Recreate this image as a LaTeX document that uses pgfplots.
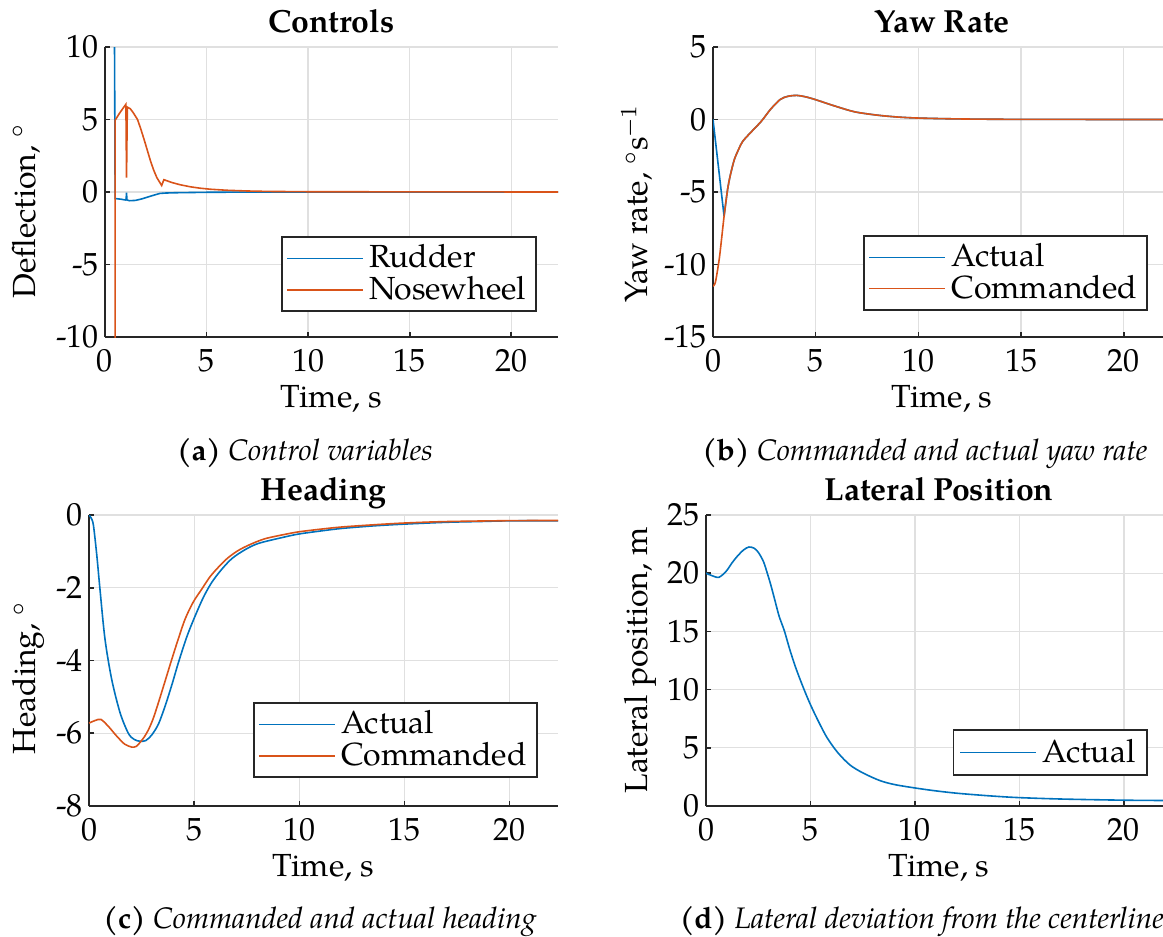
\documentclass[border=0pt]{standalone}
\usepackage{fontspec}
\setmainfont{TeX Gyre Pagella}
\usepackage{pgfplots}
\pgfplotsset{compat=1.18}

\definecolor{mblue}{rgb}{0,0.447,0.741}
\definecolor{morange}{rgb}{0.85,0.325,0.098}
\definecolor{axgray}{gray}{0.15}
\definecolor{gridgray}{gray}{0.88}

\pgfplotsset{
  myax/.style={
    scale only axis,
    anchor=south west,
    axis x line*=bottom, axis y line*=left,
    axis line style={draw=axgray, line width=0.55pt, -},
    tick style={draw=axgray, line width=0.55pt},
    major tick length=1.8pt,
    tick align=inside,
    grid=major,
    major grid style={draw=gridgray, line width=0.45pt},
    xmin=0, xmax=22.3,
    xtick={0,5,10,15,20},
    font=\fontsize{11}{13}\selectfont,
    /pgf/number format/assume math mode=true,
    xticklabel style={anchor=base, yshift=-12pt},
    yticklabel style={xshift=1.4pt},
    title style={at={(0.5,1)}, anchor=base, yshift=-1pt, font=\bfseries\fontsize{11}{13}\selectfont},
    xlabel style={at={(axis description cs:0.5,0)}, anchor=base, yshift=-24.1pt},
    legend cell align=left,
    legend image code/.code={\draw[##1, line width=0.55pt] (0pt,0pt) -- (26pt,0pt);},
    legend style={draw=axgray, line width=0.6pt, fill=white, anchor=south east,
      font=\fontsize{11}{12}\selectfont, inner xsep=1.5pt, inner ysep=0.6pt, row sep=-2.7pt},
    every axis plot/.append style={line width=0.55pt, mark=none},
  }
}

\begin{document}
\begin{tikzpicture}
\path[use as bounding box] (0,0) rectangle (400pt,321.93pt);

% (a) Controls
\begin{axis}[myax, at={(36.11pt,206.02pt)}, width=155.81pt, height=99.74pt,
  ymin=-10, ymax=10, ytick={-10,-5,0,5,10},
  title={Controls}, xlabel={Time, $\mathrm{s}$}, ylabel={Deflection, $^\circ$},
  ylabel style={at={(axis description cs:-0.1545,0.435)}, anchor=base},
  legend style={at={(rel axis cs:0.954,0.086)}}]
\addplot[mblue] coordinates {
(0.38,40) (0.50,-0.45) (0.8,-0.5) (1.0,-0.55) (1.04,-0.5) (1.06,-0.05) (1.08,-0.55)
(1.2,-0.6) (1.5,-0.58) (1.8,-0.48) (2.1,-0.35) (2.4,-0.22) (2.7,-0.1) (3.0,-0.07) (3.5,-0.05) (5,-0.02) (8,0) (22.3,0)};
\addlegendentry{Rudder}
\addplot[morange] coordinates {
(0.48,-60) (0.50,4.95) (0.7,5.4) (0.9,5.8) (1.03,6.05) (1.06,1.0) (1.10,5.85) (1.24,5.75)
(1.4,5.45) (1.6,5.0) (1.75,4.4) (1.93,3.6) (2.1,2.8) (2.25,2.1) (2.4,1.5) (2.55,1.0) (2.68,0.7) (2.79,0.45) (2.9,0.85)
(3.0,0.8) (3.3,0.65) (3.7,0.5) (4.2,0.36) (4.7,0.26) (5.2,0.19) (6,0.12) (7,0.07) (8,0.04) (10,0.02)
(15,0.01) (22.3,0)};
\addlegendentry{Nosewheel}
\end{axis}

% (b) Yaw rate
\begin{axis}[myax, at={(245.23pt,206.02pt)}, width=157.52pt, height=99.74pt,
  ymin=-15, ymax=5, ytick={-15,-10,-5,0,5},
  title={Yaw Rate}, xlabel={Time, $\mathrm{s}$}, ylabel={Yaw rate, $^\circ\mathrm{s}^{-1}$},
  ylabel style={at={(axis description cs:-0.142,0.46)}, anchor=base},
  legend style={at={(rel axis cs:0.95,0.09)}}]
\addplot[mblue] coordinates {(0,0) (0.54,-6.67)};
\addlegendentry{Actual}
\addplot[mblue, smooth, forget plot] coordinates {
(0.54,-6.67) (0.71,-4.83) (0.85,-3.8) (1.04,-2.76) (1.25,-2.05) (1.45,-1.5)
(1.9,-0.8) (2.36,-0.11) (2.8,0.7) (3.27,1.38) (3.65,1.6) (4.09,1.66) (4.55,1.55) (5.08,1.33)
(6.0,0.9) (6.9,0.53) (8,0.3) (9,0.17) (10,0.1) (12,0.04) (15,0.01) (22.3,0)};
\addplot[morange, smooth] coordinates {
(0,-11.5) (0.12,-11.2) (0.3,-9.66) (0.42,-8.2) (0.54,-6.67) (0.71,-4.83) (0.85,-3.8)
(1.04,-2.76) (1.25,-2.05) (1.45,-1.5) (1.9,-0.8) (2.36,-0.11) (2.8,0.7) (3.27,1.38)
(3.65,1.6) (4.09,1.66) (4.55,1.55) (5.08,1.33) (6.0,0.9) (6.9,0.53) (8,0.3) (9,0.17)
(10,0.1) (12,0.04) (15,0.01) (22.3,0)};
\addlegendentry{Commanded}
\end{axis}

% (c) Heading
\begin{axis}[myax, at={(30.61pt,44.71pt)}, width=161.31pt, height=100.09pt,
  ymin=-8, ymax=0, ytick={-8,-6,-4,-2,0},
  title={Heading}, xlabel={Time, $\mathrm{s}$}, ylabel={Heading, $^\circ$},
  ylabel style={at={(axis description cs:-0.113,0.44)}, anchor=base},
  legend style={at={(rel axis cs:0.957,0.096)}}]
\addplot[mblue, smooth] coordinates {
(0,0) (0.1,-0.08) (0.21,-0.28) (0.37,-1.1) (0.52,-2.03) (0.76,-3.41) (1.08,-4.52)
(1.48,-5.44) (1.87,-6.0) (2.15,-6.17) (2.43,-6.22) (2.7,-6.2) (2.98,-6.05) (3.3,-5.75)
(3.62,-5.25) (3.95,-4.65) (4.25,-4.06) (4.65,-3.35) (5.05,-2.77) (5.45,-2.25) (5.84,-1.85)
(6.3,-1.5) (6.79,-1.2) (7.4,-0.96) (8.06,-0.78) (9.33,-0.6) (10,-0.52) (11,-0.44)
(12,-0.37) (13.5,-0.3) (15,-0.25) (17,-0.2) (18.5,-0.18) (20,-0.16) (22.3,-0.16)};
\addlegendentry{Actual}
\addplot[morange, smooth] coordinates {
(0,-5.72) (0.29,-5.65) (0.57,-5.62) (0.92,-5.81) (1.2,-6.0) (1.40,-6.13) (1.7,-6.3)
(2.03,-6.38) (2.25,-6.36) (2.43,-6.25) (2.63,-6.1) (2.83,-5.9) (3.05,-5.6) (3.30,-5.16)
(3.6,-4.6) (3.94,-3.96) (4.25,-3.4) (4.57,-2.86) (4.95,-2.4) (5.37,-2.03) (5.75,-1.7)
(6.16,-1.43) (6.6,-1.18) (7.11,-0.97) (7.7,-0.8) (8.38,-0.65) (9.33,-0.53) (10,-0.46)
(11,-0.39) (12,-0.33) (13.5,-0.27) (15,-0.22) (17,-0.18) (20,-0.155) (22.3,-0.15)};
\addlegendentry{Commanded}
\end{axis}

% (d) Lateral position
\begin{axis}[myax, at={(242.82pt,44.71pt)}, width=160.28pt, height=100.09pt,
  ymin=0, ymax=25, ytick={0,5,10,15,20,25},
  title={Lateral Position}, xlabel={Time, $\mathrm{s}$}, ylabel={Lateral position, $\mathrm{m}$},
  ylabel style={at={(axis description cs:-0.1245,0.5)}, anchor=base},
  legend style={at={(rel axis cs:0.948,0.103)}, inner xsep=2pt, inner ysep=1pt}]
\addplot[mblue, smooth] coordinates {
(0,20.0) (0.27,19.8) (0.62,19.65) (0.98,20.2) (1.25,20.9) (1.52,21.5) (1.8,22.0) (2.05,22.25)
(2.3,22.15) (2.5,21.8) (2.75,21.0) (2.95,19.9) (3.1,19.0) (3.3,17.65) (3.5,16.3) (3.75,15.05)
(4.0,13.5) (4.29,11.9) (4.65,10.2) (5.0,8.7) (5.4,7.2) (5.8,5.85) (6.3,4.6) (6.88,3.54)
(7.5,2.85) (8.3,2.2) (9,1.85) (10,1.55) (11,1.3) (12,1.1) (13,0.95) (14,0.82) (15,0.72)
(17,0.6) (20,0.5) (22.3,0.47)};
\addlegendentry{Actual}
\end{axis}

% captions
\node[anchor=base, font=\fontsize{10.2}{12}\selectfont] at (104.9pt,163.7pt) {\textbf{(a)} \textit{Control variables}};
\node[anchor=base, font=\fontsize{10.2}{12}\selectfont] at (318.1pt,163.7pt) {\textbf{(b)} \textit{Commanded and actual yaw rate}};
\node[anchor=base, font=\fontsize{10.2}{12}\selectfont] at (110.1pt,2.75pt) {\textbf{(c)} \textit{Commanded and actual heading}};
\node[anchor=base, font=\fontsize{10.2}{12}\selectfont] at (317.1pt,2.75pt) {\textbf{(d)} \textit{Lateral deviation from the centerline}};
\end{tikzpicture}
\end{document}
